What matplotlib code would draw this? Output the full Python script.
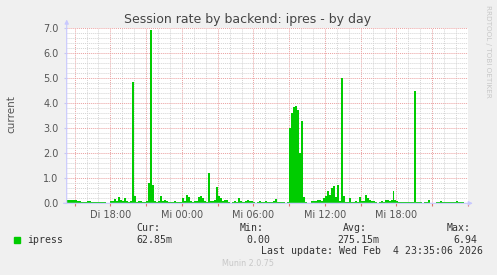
import numpy as np
import matplotlib
matplotlib.use('Agg')
import matplotlib.pyplot as plt
from matplotlib.ticker import MultipleLocator, FixedLocator

# session rate, one value per 10 minutes, starting Di 14:20
rate = [
    0.13, 0.15, 0.12, 0.14, 0.12, 0.10, 0.08, 0.06, 0.05, 0.07,
    0.08, 0.09, 0.07, 0.05, 0.06, 0.07, 0.05, 0.06, 0.04, 0.05,
    0.02, 0.00, 0.10, 0.10, 0.18, 0.08, 0.27, 0.12, 0.10, 0.20,
    0.08, 0.07, 0.08, 4.86, 0.30, 0.05, 0.08, 0.10, 0.06, 0.05,
    0.10, 0.80, 6.94, 0.75, 0.10, 0.05, 0.08, 0.30, 0.10, 0.12,
    0.08, 0.05, 0.07, 0.06, 0.08, 0.05, 0.04, 0.06, 0.20, 0.10,
    0.35, 0.25, 0.08, 0.05, 0.10, 0.08, 0.25, 0.30, 0.20, 0.10,
    0.05, 1.20, 0.10, 0.08, 0.12, 0.65, 0.28, 0.20, 0.10, 0.15,
    0.12, 0.05, 0.02, 0.06, 0.08, 0.05, 0.20, 0.08, 0.05, 0.06,
    0.10, 0.12, 0.10, 0.08, 0.05, 0.03, 0.06, 0.08, 0.07, 0.05,
    0.08, 0.07, 0.06, 0.05, 0.08, 0.18, 0.05, 0.04, 0.06, 0.05,
    0.03, 0.04, 3.00, 3.60, 3.85, 3.90, 3.75, 2.00, 3.30, 0.25,
    0.05, 0.02, 0.03, 0.10, 0.08, 0.10, 0.12, 0.15, 0.10, 0.20,
    0.30, 0.50, 0.35, 0.60, 0.70, 0.25, 0.73, 0.10, 5.00, 0.30,
    0.05, 0.06, 0.22, 0.07, 0.06, 0.08, 0.07, 0.25, 0.10, 0.08,
    0.32, 0.20, 0.15, 0.10, 0.08, 0.05, 0.03, 0.04, 0.10, 0.05,
    0.12, 0.15, 0.10, 0.15, 0.50, 0.12, 0.08, 0.05, 0.04, 0.06,
    0.05, 0.05, 0.06, 0.05, 0.07, 4.50, 0.05, 0.04, 0.05, 0.03,
    0.06, 0.05, 0.15, 0.03, 0.02, 0.03, 0.04, 0.06, 0.08, 0.05,
    0.07, 0.05, 0.06, 0.05, 0.04, 0.06, 0.08, 0.07, 0.05, 0.06,
]
step_h = 10 / 60.0
tick_hours = [3 + 2/3.0, 9 + 2/3.0, 15 + 2/3.0, 21 + 2/3.0, 27 + 2/3.0]
tick_names = ['Di 18:00', 'Mi 00:00', 'Mi 06:00', 'Mi 12:00', 'Mi 18:00']
legend_name = 'ipress'
stats_head = ['Cur:', 'Min:', 'Avg:', 'Max:']
stats_vals = ['62.85m', '0.00', '275.15m', '6.94']

W, H = 497, 275
fig = plt.figure(figsize=(W / 100, H / 100), dpi=100, facecolor='#F0F0F0')
x0, x1, ytop, ybot = 66.7, 468.0, 28.3, 203.3
ax = fig.add_axes([x0 / W, 1 - ybot / H, (x1 - x0) / W, (ybot - ytop) / H])
ax.set_facecolor('white')

t = np.arange(len(rate) + 1) * step_h
v = np.append(rate, rate[-1])
ax.fill_between(t, v, step='post', color='#00CC00', lw=0, zorder=3)

ax.set_xlim(0, (x1 - x0) / 12.0)
ax.set_ylim(0, 7.0)

# grid
ax.xaxis.set_major_locator(FixedLocator(np.arange(2/3.0, 34, 3)))
ax.xaxis.set_minor_locator(FixedLocator(np.arange(2/3.0, 34, 1)))
ax.yaxis.set_major_locator(MultipleLocator(1.0))
ax.yaxis.set_minor_locator(MultipleLocator(0.2))
ax.grid(which='minor', color='#D4D4D4', lw=0.7, ls=(0, (1, 1)), zorder=0)
ax.grid(which='major', color='#EAA0A0', lw=0.7, ls=(0, (1, 1)), zorder=1)
ax.set_axisbelow(True)

maj = ax.get_xticks()
labels = []
for m in maj:
    lab = ''
    for th, nm in zip(tick_hours, tick_names):
        if abs(th - m) < 0.01:
            lab = nm
    labels.append(lab)
ax.set_xticks(maj)
ax.set_xticklabels(labels)
ax.set_yticks(np.arange(0, 7.5, 1.0))
ax.set_yticklabels(['%.1f' % y for y in np.arange(0, 7.5, 1.0)])
ax.tick_params(axis='x', which='major', length=2, color='#E07070', pad=3,
               labelsize=7, labelcolor='#555555')
ax.tick_params(axis='y', which='major', length=2, color='#C8C8F0', pad=4,
               labelsize=7, labelcolor='#555555')
ax.tick_params(which='minor', length=0)
for s in ax.spines.values():
    s.set_visible(False)

# axes with arrows
ax.annotate('', xy=(0, 1.05), xytext=(0, 0), xycoords='axes fraction',
            arrowprops=dict(arrowstyle='-|>', color='#C8C8FF', lw=0.8,
                            mutation_scale=6, shrinkA=0, shrinkB=0), zorder=5)
ax.annotate('', xy=(1.012, 0), xytext=(-0.008, 0), xycoords='axes fraction',
            arrowprops=dict(arrowstyle='-|>', color='#C8C8FF', lw=0.8,
                            mutation_scale=6, shrinkA=0, shrinkB=0), zorder=5)

fig.text(248 / W, 1 - 19.3 / H, 'Session rate by backend: ipres - by day',
         ha='center', va='center', fontsize=9, color='#444444')
fig.text(11 / W, 1 - 114 / H, 'current', rotation=90, ha='center',
         va='center', fontsize=7.5, color='#555555')
fig.text(488 / W, 1 - 5 / H, 'RRDTOOL / TOBI OETIKER', rotation=270,
         ha='center', va='top', fontsize=5.2, color='#C8C8C8')

# legend block
mono = 'DejaVu Sans Mono'
fig.patches.append(plt.Rectangle((14 / W, 1 - 243 / H), 6 / W, 6 / H,
                                 transform=fig.transFigure,
                                 color='#00CC00'))
fig.text(26.7 / W, 1 - 239.7 / H, legend_name, family=mono, fontsize=7.1,
         va='center', color='#333333')
head_x = [136, 239.3, 343.3, 446.7]
val_x = [136, 246, 337.3, 453.3]
for hx, vx, hd, vl in zip(head_x, val_x, stats_head, stats_vals):
    fig.text(hx / W, 1 - 228 / H, hd, family=mono, fontsize=7.1,
             va='center', color='#333333')
    fig.text(vx / W, 1 - 239.7 / H, vl, family=mono, fontsize=7.1,
             va='center', color='#333333')
fig.text(482.7 / W, 1 - 251 / H, 'Last update: Wed Feb  4 23:35:06 2026',
         family=mono, fontsize=7.1, ha='right', va='center', color='#333333')
fig.text(248 / W, 1 - 264 / H, 'Munin 2.0.75', fontsize=5.8, ha='center',
         va='center', color='#C8C8C8')

fig.savefig('out.png', dpi=100, facecolor=fig.get_facecolor())
